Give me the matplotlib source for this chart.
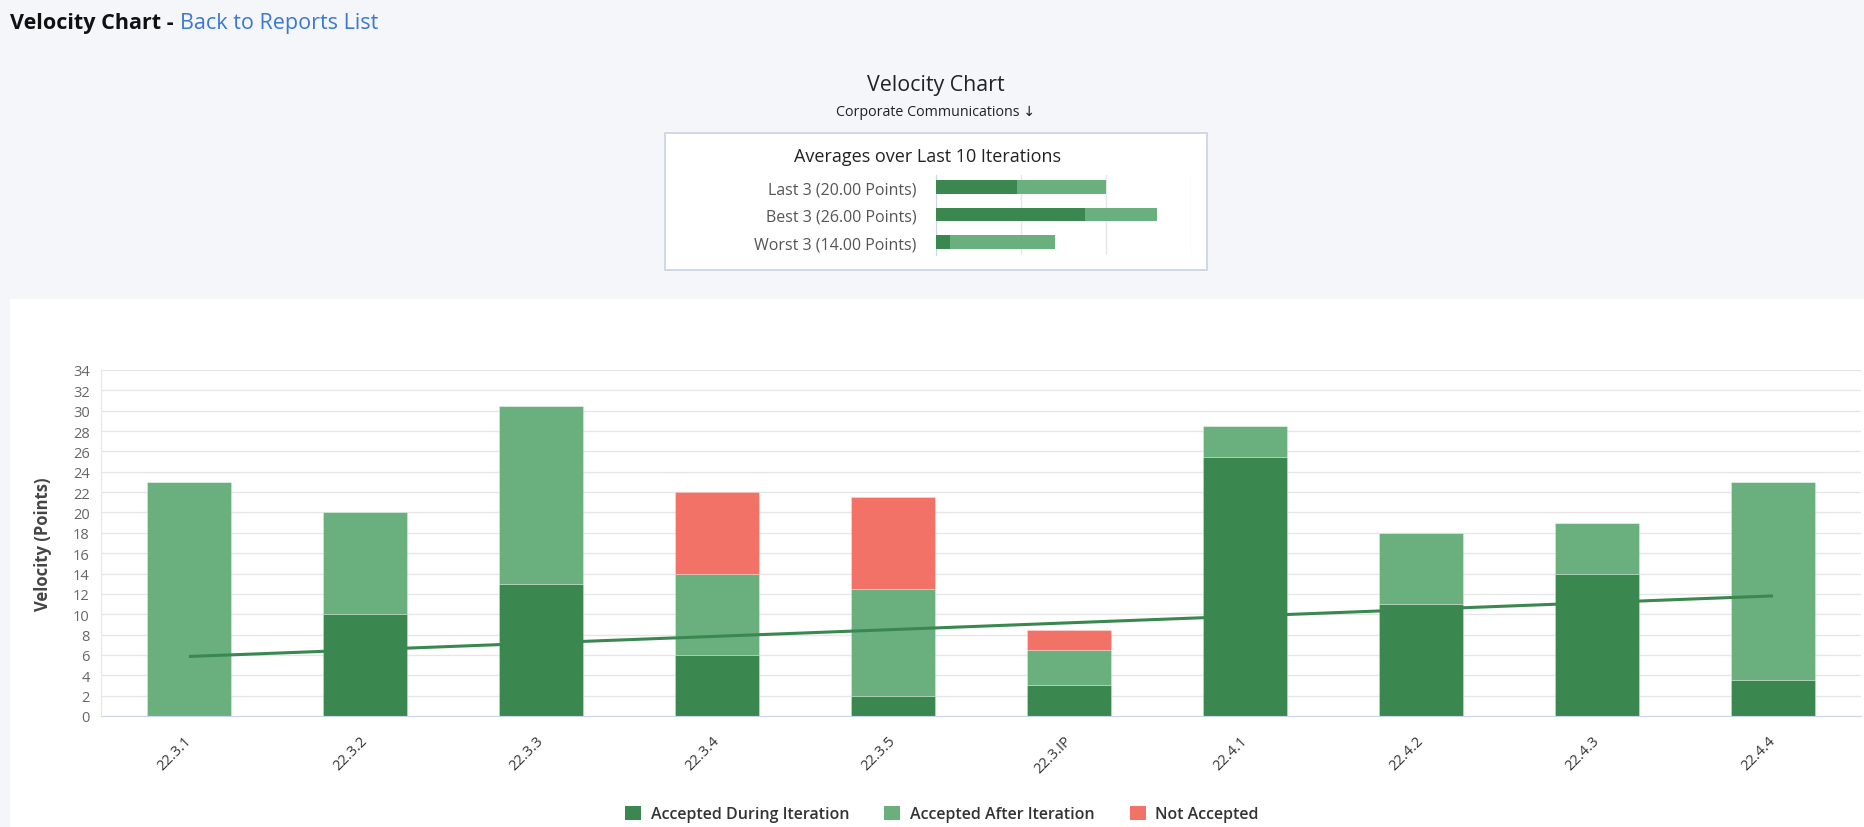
import numpy as np
import matplotlib
matplotlib.use("Agg")
import matplotlib.pyplot as plt
from matplotlib.patches import Rectangle, Patch

plt.rcParams['font.family'] = ['Open Sans', 'DejaVu Sans']

# ---- data ----------------------------------------------------------
iterations = ['22.3.1', '22.3.2', '22.3.3', '22.3.4', '22.3.5',
              '22.3.IP', '22.4.1', '22.4.2', '22.4.3', '22.4.4']
accepted_during = [0, 10, 13, 6, 2, 3, 25.5, 11, 14, 3.5]
accepted_after = [23, 10, 17.5, 8, 10.5, 3.5, 3, 7, 5, 19.5]
not_accepted = [0, 0, 0, 8, 9, 2, 0, 0, 0, 0]
trend_x = [0, 9]
trend_y = [5.85, 11.8]

avg_labels = ['Last 3 (20.00 Points)', 'Best 3 (26.00 Points)', 'Worst 3 (14.00 Points)']
avg_during = [9.5, 17.5, 1.67]
avg_total = [20, 26, 14]

DARK = '#3b8750'
LIGHT = '#6ab07e'
RED = '#f27268'
BG = '#f5f6fa'

W, H = 1864, 828
fig = plt.figure(figsize=(W / 100, H / 100), dpi=100, facecolor=BG)

def fx(px):
  return px / W

def fy(py):
  return 1 - py / H

# white chart panel
fig.patches.append(Rectangle((fx(10), 0), 1 - fx(10), fy(300), transform=fig.transFigure,
                             facecolor='white', edgecolor='none', zorder=-2))

# header
fig.text(fx(10), fy(24), 'Velocity Chart -', fontsize=15.5, fontweight='bold',
         color='#111111', va='center')
fig.text(fx(180), fy(24), 'Back to Reports List', fontsize=15.5, color='#3a78d4', va='center')

fig.text(fx(936), fy(86), 'Velocity Chart', fontsize=15.4, color='#222222', ha='center', va='center')
fig.text(fx(936), fy(113), 'Corporate Communications \u2193', fontsize=10.3, color='#222222',
         ha='center', va='center')

# summary box
fig.patches.append(Rectangle((fx(665), fy(271)), fx(1207) - fx(665), fy(134) - fy(271),
                             transform=fig.transFigure, facecolor='white',
                             edgecolor='#c9d1e3', linewidth=1.2, zorder=-1))
fig.text(fx(928), fy(157), 'Averages over Last 10 Iterations', fontsize=13, color='#222222',
         ha='center', va='center', zorder=3)

sax = fig.add_axes([fx(936), fy(256), fx(1191) - fx(936), fy(176) - fy(256)])
sax.set_facecolor('none')
rows = np.arange(len(avg_labels))
after_part = [t - d for t, d in zip(avg_total, avg_during)]
sax.barh(rows, avg_during, height=0.5, color=DARK, zorder=3)
sax.barh(rows, after_part, left=avg_during, height=0.5, color=LIGHT, zorder=3)
sax.set_xlim(0, 30)
sax.set_ylim(2.47, -0.44)
sax.set_xticks([0, 10, 20, 30])
sax.xaxis.grid(True, color='#e6e6e6', linewidth=1)
sax.set_axisbelow(True)
sax.set_xticklabels([])
sax.tick_params(axis='x', length=0)
sax.set_yticks(rows)
sax.set_yticklabels(avg_labels, fontsize=11.5, color='#555555')
sax.tick_params(axis='y', length=0, pad=14)
for s in ['top', 'right', 'bottom']:
  sax.spines[s].set_visible(False)
sax.spines['left'].set_color('#ccd6eb')

# main chart
ax = fig.add_axes([fx(101), fy(717), fx(1861) - fx(101), fy(371) - fy(717)])
ax.set_facecolor('none')
x = np.arange(len(iterations))
during = np.array(accepted_during)
after = np.array(accepted_after)
notacc = np.array(not_accepted)
edge = dict(edgecolor=(1, 1, 1, 0.3), linewidth=0.6)
ax.bar(x, during, width=0.48, color=DARK, zorder=2, **edge)
ax.bar(x, after, bottom=during, width=0.48, color=LIGHT, zorder=2, **edge)
ax.bar(x, notacc, bottom=during + after, width=0.48, color=RED, zorder=2, **edge)
ax.plot(trend_x, trend_y, color=DARK, linewidth=2.2, zorder=4, solid_capstyle='butt')

ax.set_xlim(-0.5, len(iterations) - 0.5)
ax.set_ylim(0, 34)
ax.set_yticks(np.arange(0, 35, 2))
ax.yaxis.grid(True, color='#e6e6e6', linewidth=1)
ax.set_axisbelow(True)
ax.tick_params(axis='y', length=0, labelsize=10.5, labelcolor='#666666', pad=8)
ax.set_xticks(x)
ax.set_xticklabels(iterations, rotation=45, ha='right', va='center', rotation_mode='anchor',
                   fontsize=10.5, color='#333333')
ax.tick_params(axis='x', length=0, pad=16)
ax.set_ylabel('Velocity (Points)', fontsize=12, fontweight='bold', color='#444444', labelpad=15)
ax.spines['top'].set_visible(False)
ax.spines['right'].set_visible(False)
ax.spines['left'].set_color('#e6e6e6')
ax.spines['bottom'].set_color('#ccd6eb')

handles = [Patch(facecolor=DARK, edgecolor='none'),
           Patch(facecolor=LIGHT, edgecolor='none'),
           Patch(facecolor=RED, edgecolor='none')]
fig.legend(handles, ['Accepted During Iteration', 'Accepted After Iteration', 'Not Accepted'],
           loc='center', bbox_to_anchor=(fx(942), fy(815)), ncol=3, frameon=False,
           handlelength=1.0, handleheight=1.0, handletextpad=0.6, columnspacing=2.2,
           prop={'size': 11.5, 'weight': 'semibold'}, labelcolor='#333333')

fig.savefig('out.png', dpi=100, facecolor=BG)
